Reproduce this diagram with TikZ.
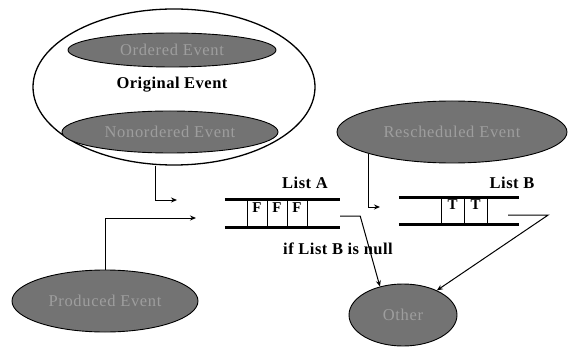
\documentclass[tikz,border=0pt]{standalone}
\usepackage{fontspec}
\setmainfont{Liberation Serif}
\usetikzlibrary{shapes.geometric,arrows.meta}
\begin{document}
\begin{tikzpicture}[x=1pt,y=-1pt,
  greyev/.style={ellipse, draw=black, line width=0.9pt, fill=black!55,
    text=black!38, font=\fontsize{16.5}{16.5}\selectfont\addfontfeatures{LetterSpace=4}, inner sep=0pt},
  boldlabel/.style={font=\bfseries\fontsize{16.5}{16.5}\selectfont\addfontfeatures{LetterSpace=3}, inner sep=0pt},
  arr/.style={line width=1pt, -{Stealth[length=6pt,width=5pt]}},
  rail/.style={line width=2.8pt},
  cellbox/.style={draw, line width=0.9pt, inner sep=0pt},
  celltext/.style={font=\bfseries\fontsize{15}{15}\selectfont, inner sep=0pt}
]
\useasboundingbox (0,0) rectangle (569,347);

% group of original events
\node[ellipse, draw, line width=1.3pt, minimum width=282pt, minimum height=156pt,
  inner sep=0pt] (orig) at (174,87) {};
\node[boldlabel] (origlabel) at (172,85) {Original Event};
\node[greyev, minimum width=208pt, minimum height=34pt] (ordered) at (172,50) {Ordered Event};
\node[greyev, minimum width=216pt, minimum height=42pt] (nonordered) at (170,132) {Nonordered Event};

% other events
\node[greyev, minimum width=230pt, minimum height=62pt] (resched) at (452,132) {Rescheduled Event};
\node[greyev, minimum width=186pt, minimum height=62pt] (produced) at (105,301) {Produced Event};
\node[greyev, minimum width=108pt, minimum height=62pt] (other) at (403,315) {Other};

% list A
\node[minimum width=115pt, minimum height=27pt, inner sep=0pt] (listA) at (282.5,213.5) {};
\node[cellbox, minimum width=20pt, minimum height=27pt] (a1) at (257,213.5) {};
\node[cellbox, minimum width=20pt, minimum height=27pt] (a2) at (277,213.5) {};
\node[cellbox, minimum width=20pt, minimum height=27pt] (a3) at (297,213.5) {};
\draw[rail] (listA.north west) -- (listA.north east);
\draw[rail] (listA.south west) -- (listA.south east);
\node[celltext] (fa1) at ([yshift=6pt]a1.center) {F};
\node[celltext] (fa2) at ([yshift=6pt]a2.center) {F};
\node[celltext] (fa3) at ([yshift=6pt]a3.center) {F};
\node[boldlabel] (labA) at (305,183) {List A};

% list B
\node[minimum width=120pt, minimum height=26pt, inner sep=0pt] (listB) at (459,211) {};
\node[cellbox, minimum width=23pt, minimum height=26pt] (b1) at (452.5,211) {};
\node[cellbox, minimum width=23pt, minimum height=26pt] (b2) at (475.5,211) {};
\draw[rail] (listB.north west) -- (listB.north east);
\draw[rail] (listB.south west) -- (listB.south east);
\node[celltext] (tb1) at ([yshift=6pt]b1.center) {T};
\node[celltext] (tb2) at ([yshift=6pt]b2.center) {T};
\node[boldlabel] (labB) at (512,183) {List B};

\node[boldlabel] (cond) at (338,249) {if List B is null};

% connectors
\coordinate (inA1) at (177,200);
\coordinate (inA2) at (196,218);
\coordinate (inB) at (380,207);
\draw[arr] ([xshift=-19pt]orig.south) |- (inA1);
\draw[arr] (produced.north) |- (inA2);
\draw[arr] ([xshift=-2pt]resched.south west) |- (inB);
\draw[arr] ([yshift=-2.5pt]listA.east) -- ++(20,0) -- (other.129);
\draw[arr] ([xshift=-11pt,yshift=-4pt]listB.east) -- ++(40,0) -- (other.36);
\end{tikzpicture}
\end{document}
